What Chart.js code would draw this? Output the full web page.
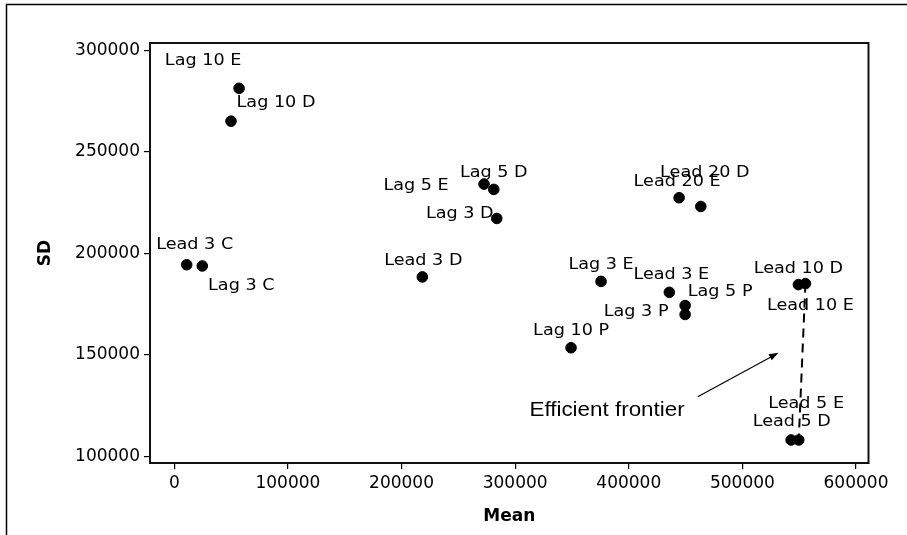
<!DOCTYPE html>
<html>
<head>
<meta charset="utf-8">
<script src="https://cdn.jsdelivr.net/npm/chart.js@4"></script>
<style>
  html, body { margin: 0; padding: 0; background: #fff; }
  canvas { display: block; }
</style>
</head>
<body>
<canvas id="myChart" width="907" height="535"></canvas>
<script>
// portfolio points (mean, sd)
const names = ['Lag 10 E', 'Lag 10 D', 'Lag 5 E', 'Lag 5 D', 'Lag 3 D', 'Lead 3 C', 'Lag 3 C', 'Lead 3 D',
  'Lead 20 E', 'Lead 20 D', 'Lag 3 E', 'Lead 3 E', 'Lag 5 P', 'Lag 3 P', 'Lag 10 P',
  'Lead 10 D', 'Lead 10 E', 'Lead 5 E', 'Lead 5 D'];
const means = [57000, 49900, 272600, 281200, 283800, 10900, 24600, 218300,
  444300, 463400, 375600, 435700, 449600, 449600, 349200,
  549300, 555500, 542900, 549600];
const sds = [281300, 265100, 234100, 231500, 217200, 194400, 193800, 188400,
  227400, 223100, 186200, 180800, 174300, 169900, 153500,
  184600, 185100, 108100, 108100];

const xTicks = [0, 100000, 200000, 300000, 400000, 500000, 600000];
const yTicks = [100000, 150000, 200000, 250000, 300000];

// efficient frontier joins these two points
const frontierNames = ['Lead 10 E', 'Lead 5 D'];
// arrow annotation (data units) and its caption
const arrowFrom = [460700, 129400];
const arrowTo = [531700, 151000];
const captionAt = [380900, 122700];
const captionText = 'Efficient frontier';

// label placement, pixels from the point (centre of text)
const labelOffsets = [[-36, -27], [45, -18], [-68, 2], [0, -17], [-37, -5], [8, -20], [39, 20], [1, -16],
  [-2, -16], [4, -34], [0, -17], [2, -17], [35, -14], [-49, -3], [0, -17],
  [0, -16], [5, 22], [15, -36], [-7, -18]];

const FONT = 'DejaVu Sans';

const points = names.map((n, i) => ({ x: means[i], y: sds[i] }));
const frontier = frontierNames.map(n => points[names.indexOf(n)]);

const decorPlugin = {
  id: 'decor',
  afterDatasetsDraw(chart) {
    const ctx = chart.ctx;
    const xs = chart.scales.x, ys = chart.scales.y;
    const meta = chart.getDatasetMeta(0);

    // point labels
    ctx.save();
    ctx.fillStyle = '#000';
    ctx.font = '16px "' + FONT + '"';
    ctx.textAlign = 'center';
    ctx.textBaseline = 'middle';
    meta.data.forEach((pt, i) => {
      const off = labelOffsets[i];
      ctx.save();
      ctx.translate(pt.x + off[0], pt.y + off[1]);
      ctx.scale(1.1, 1);
      ctx.fillText(names[i], 0, 0);
      ctx.restore();
    });

    // arrow
    const x1 = xs.getPixelForValue(arrowFrom[0]), y1 = ys.getPixelForValue(arrowFrom[1]);
    const x2 = xs.getPixelForValue(arrowTo[0]), y2 = ys.getPixelForValue(arrowTo[1]);
    const ang = Math.atan2(y2 - y1, x2 - x1);
    ctx.strokeStyle = '#000';
    ctx.lineWidth = 1.2;
    ctx.beginPath();
    ctx.moveTo(x1, y1);
    ctx.lineTo(x2 - 8 * Math.cos(ang), y2 - 8 * Math.sin(ang));
    ctx.stroke();
    ctx.beginPath();
    ctx.moveTo(x2, y2);
    ctx.lineTo(x2 - 10 * Math.cos(ang - 0.35), y2 - 10 * Math.sin(ang - 0.35));
    ctx.lineTo(x2 - 10 * Math.cos(ang + 0.35), y2 - 10 * Math.sin(ang + 0.35));
    ctx.closePath();
    ctx.fillStyle = '#000';
    ctx.fill();

    // caption
    ctx.font = '20px "Liberation Sans"';
    ctx.save();
    ctx.translate(xs.getPixelForValue(captionAt[0]), ys.getPixelForValue(captionAt[1]));
    ctx.scale(1.12, 1);
    ctx.fillText(captionText, 0, 0);
    ctx.restore();

    // plot frame
    const a = chart.chartArea;
    ctx.lineWidth = 2;
    ctx.strokeStyle = '#111';
    ctx.strokeRect(a.left, a.top, a.right - a.left, a.bottom - a.top);

    // outer frame (top and left edges)
    ctx.lineWidth = 1.5;
    ctx.strokeStyle = '#000';
    ctx.beginPath();
    ctx.moveTo(907, 4.5);
    ctx.lineTo(6.5, 4.5);
    ctx.lineTo(6.5, 535);
    ctx.stroke();
    ctx.restore();
  }
};

const ctx = document.getElementById('myChart').getContext('2d');
const myChart = new Chart(ctx, {
  type: 'scatter',
  data: {
    datasets: [
      {
        data: points,
        backgroundColor: '#000',
        borderColor: '#000',
        pointRadius: 5.3,
        pointHoverRadius: 5.3
      },
      {
        data: frontier,
        showLine: true,
        borderColor: '#000',
        borderWidth: 2,
        borderDash: [9, 6],
        pointRadius: 0,
        pointHoverRadius: 0
      }
    ]
  },
  options: {
    responsive: false,
    animation: false,
    layout: { padding: { top: 43, right: 38.5, left: 31, bottom: 4 } },
    plugins: { legend: { display: false }, tooltip: { enabled: false } },
    scales: {
      x: {
        type: 'linear',
        min: -21400,
        max: 611000,
        afterBuildTicks: s => { s.ticks = xTicks.map(v => ({ value: v })); },
        afterFit: s => { s.height = 68; },
        grid: { drawOnChartArea: false, drawTicks: true, tickLength: 6, color: '#000', lineWidth: 1.2 },
        border: { display: true, color: '#111', width: 2 },
        ticks: {
          color: '#000',
          padding: 4,
          maxRotation: 0,
          font: { family: FONT, size: 17 },
          callback: v => String(v)
        },
        title: {
          display: true,
          text: 'Mean',
          color: '#000',
          padding: 4,
          font: { family: FONT, size: 17, weight: 'bold' }
        }
      },
      y: {
        type: 'linear',
        min: 96750,
        max: 303600,
        afterBuildTicks: s => { s.ticks = yTicks.map(v => ({ value: v })); },
        afterFit: s => { s.width = 119; },
        grid: { drawOnChartArea: false, drawTicks: true, tickLength: 6, color: '#000', lineWidth: 1.2 },
        border: { display: true, color: '#111', width: 2 },
        ticks: {
          color: '#000',
          padding: 4,
          font: { family: FONT, size: 17 },
          callback: v => String(v)
        },
        title: {
          display: true,
          text: 'SD',
          color: '#000',
          padding: 4,
          font: { family: FONT, size: 17, weight: 'bold' }
        }
      }
    }
  },
  plugins: [decorPlugin]
});
</script>
</body>
</html>
